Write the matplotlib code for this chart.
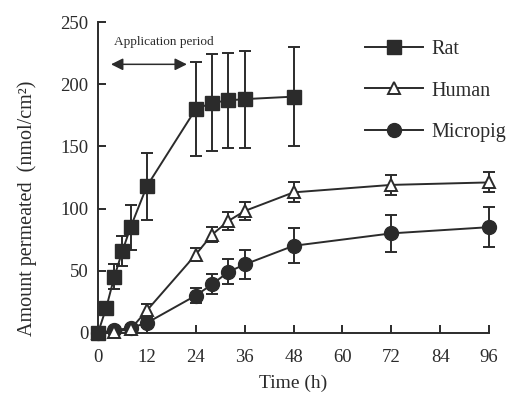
import matplotlib
matplotlib.use("Agg")
import matplotlib.pyplot as plt
from matplotlib.lines import Line2D

# amount permeated over time (nmol/cm2), mean +/- SD
rat_t = [0, 2, 4, 6, 8, 12, 24, 28, 32, 36, 48]
rat_y = [0, 20, 45, 66, 85, 118, 180, 185, 187, 188, 190]
rat_err = [0, 5, 10, 12, 18, 27, 38, 39, 38, 39, 40]

human_t = [0, 4, 8, 12, 24, 28, 32, 36, 48, 72, 96]
human_y = [0, 1, 3, 18, 63, 79, 90, 98, 113, 119, 121]
human_err = [0, 1, 2, 5, 5, 6, 7, 7, 8, 8, 8]

pig_t = [0, 4, 8, 12, 24, 28, 32, 36, 48, 72, 96]
pig_y = [0, 2, 4, 8, 30, 39, 49, 55, 70, 80, 85]
pig_err = [0, 1, 2, 3, 6, 8, 10, 12, 14, 15, 16]

x_ticks = [0, 12, 24, 36, 48, 60, 72, 84, 96]
y_ticks = [0, 50, 100, 150, 200, 250]

plt.rcParams["font.family"] = ["Liberation Serif", "DejaVu Serif"]
ink = "#2b2b2b"

fig = plt.figure(figsize=(5.27, 4.01), dpi=100)
ax = fig.add_axes([0.186, 0.170, 0.742, 0.775])

common = dict(color=ink, ecolor=ink, elinewidth=1.4, capsize=4.5, capthick=1.4,
              lw=1.4, clip_on=False)
sq = dict(marker="s", ms=10, mfc=ink, mec=ink)
tri = dict(marker="^", ms=9, mfc="white", mec=ink, mew=1.4)
circ = dict(marker="o", ms=10, mfc=ink, mec=ink)
ax.errorbar(rat_t, rat_y, yerr=rat_err, zorder=5, **sq, **common)
ax.errorbar(human_t, human_y, yerr=human_err, zorder=4, **tri, **common)
ax.errorbar(pig_t, pig_y, yerr=pig_err, zorder=3, **circ, **common)

ax.set_xlim(0, 96)
ax.set_ylim(0, 250)
ax.set_xticks(x_ticks)
ax.set_yticks(y_ticks)
ax.spines["top"].set_visible(False)
ax.spines["right"].set_visible(False)
for s in ("left", "bottom"):
    ax.spines[s].set_linewidth(1.4)
    ax.spines[s].set_color(ink)
ax.tick_params(direction="in", length=6, width=1.4, colors=ink, labelsize=13.5)
ax.tick_params(axis="x", pad=12)
ax.tick_params(axis="y", pad=7)

ax.set_xlabel("Time (h)", fontsize=14, color=ink, labelpad=6)
ax.set_ylabel("Amount permeated  (nmol/cm\u00b2)", fontsize=14.5, color=ink, labelpad=6)
ax.yaxis.set_label_coords(-0.155, 0.40)

ax.annotate("", xy=(2.5, 216), xytext=(22.5, 216),
            arrowprops=dict(arrowstyle="<|-|>", color=ink, lw=1.1, mutation_scale=18))
ax.text(4, 234, "Application period", fontsize=9.5, color=ink, va="center")

handles = [Line2D([], [], color=ink, lw=1.4, **sq),
           Line2D([], [], color=ink, lw=1.4, **tri),
           Line2D([], [], color=ink, lw=1.4, **circ)]
leg = ax.legend(handles, ["Rat", "Human", "Micropig"], loc="upper right",
                bbox_to_anchor=(1.09, 1.0), frameon=False, fontsize=14.5,
                handlelength=2.9, labelspacing=1.1, handletextpad=0.4)
for t in leg.get_texts():
    t.set_color(ink)

fig.savefig("out.png", dpi=100)
